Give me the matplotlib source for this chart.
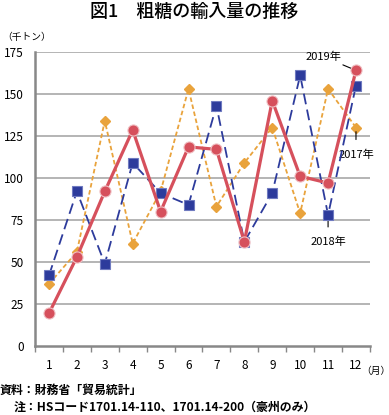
import matplotlib.pyplot as plt
import numpy as np

plt.rcParams['font.family'] = ['Noto Sans CJK JP', 'DejaVu Sans']

months = list(range(1, 13))
month_labels = [str(m) for m in months]
y2017 = [37, 56, 134, 61, 92, 153, 83, 109, 130, 79, 153, 130]
y2018 = [42, 92, 49, 109, 91, 84, 143, 62, 91, 161, 78, 155]
y2019 = [19.5, 53, 92, 128.5, 80, 118.5, 117, 62, 146, 101, 97, 164]
yticks = [0, 25, 50, 75, 100, 125, 150, 175]

RED = '#d6505c'
BLUE = '#2d3b9c'
ORANGE = '#e9a33c'
GRID = '#a8a8a8'

fig = plt.figure(figsize=(3.89, 4.15), dpi=100)
ax = fig.add_axes([0.09, 0.166, 0.861, 0.709])

for y in yticks[1:]:
    ax.axhline(y, color=GRID, lw=1.2, zorder=1)

ax.plot(months, y2017, color=ORANGE, lw=1.3, ls=(0, (2.5, 1.5)),
        marker='D', ms=5, mec=ORANGE, mfc=ORANGE, zorder=3)
ax.plot(months, y2018, color=BLUE, lw=1.3, ls=(0, (6, 3)),
        marker='s', ms=7.5, mec='#6f7ac0', mew=0.8, mfc=BLUE, zorder=4)
ax.plot(months, y2019, color=RED, lw=2.3, marker='o', ms=8,
        mec='#f0c0c4', mew=0.8, mfc=RED, zorder=5)

ax.set_xlim(0.5, 12.5)
ax.set_ylim(0, 175)
ax.set_yticks(yticks)
ax.set_xticks(months)
ax.set_xticklabels(month_labels)
ax.set_xticks(np.arange(0.5, 13, 1), minor=True)
ax.tick_params(axis='x', which='major', length=0, pad=9, labelsize=8.5)
ax.tick_params(axis='x', which='minor', length=4, color='#888888', width=1)
ax.tick_params(axis='y', length=0, pad=8, labelsize=8.5)
for s in ['top', 'right']:
    ax.spines[s].set_visible(False)
ax.spines['left'].set_color('#888888')
ax.spines['left'].set_linewidth(1.8)
ax.spines['bottom'].set_color('#888888')
ax.spines['bottom'].set_linewidth(1.8)

# annotations
ax.annotate('2019年', xy=(12, y2019[11]), xytext=(10.85, 172),
            fontsize=8, ha='center', va='center',
            arrowprops=dict(arrowstyle='-', color='black', lw=0.8,
                            shrinkA=0, shrinkB=3))
ax.annotate('2017年', xy=(12, y2017[11]), xytext=(12, 114),
            fontsize=8, ha='center', va='center',
            arrowprops=dict(arrowstyle='-', color='black', lw=0.8,
                            shrinkA=5, shrinkB=3))
ax.annotate('2018年', xy=(11, y2018[10]), xytext=(11, 62),
            fontsize=8, ha='center', va='center',
            arrowprops=dict(arrowstyle='-', color='black', lw=0.8,
                            shrinkA=5, shrinkB=4))

fig.text(0.5, 0.972, '図1　粗糖の輸入量の推移', ha='center', va='center',
         fontsize=13, fontweight='medium')
fig.text(0.005, 0.91, '（千トン）', ha='left', va='center', fontsize=7)
fig.text(0.965, 0.105, '（月）', ha='center', va='center', fontsize=7)
fig.text(0.0, 0.06, '資料：財務省「貿易統計」', ha='left', va='center',
         fontsize=8.6, fontweight='bold')
fig.text(0.035, 0.018, '注：HSコード1701.14-110、1701.14-200（豪州のみ）',
         ha='left', va='center', fontsize=8.6, fontweight='bold')

fig.savefig('out.png', dpi=100)
